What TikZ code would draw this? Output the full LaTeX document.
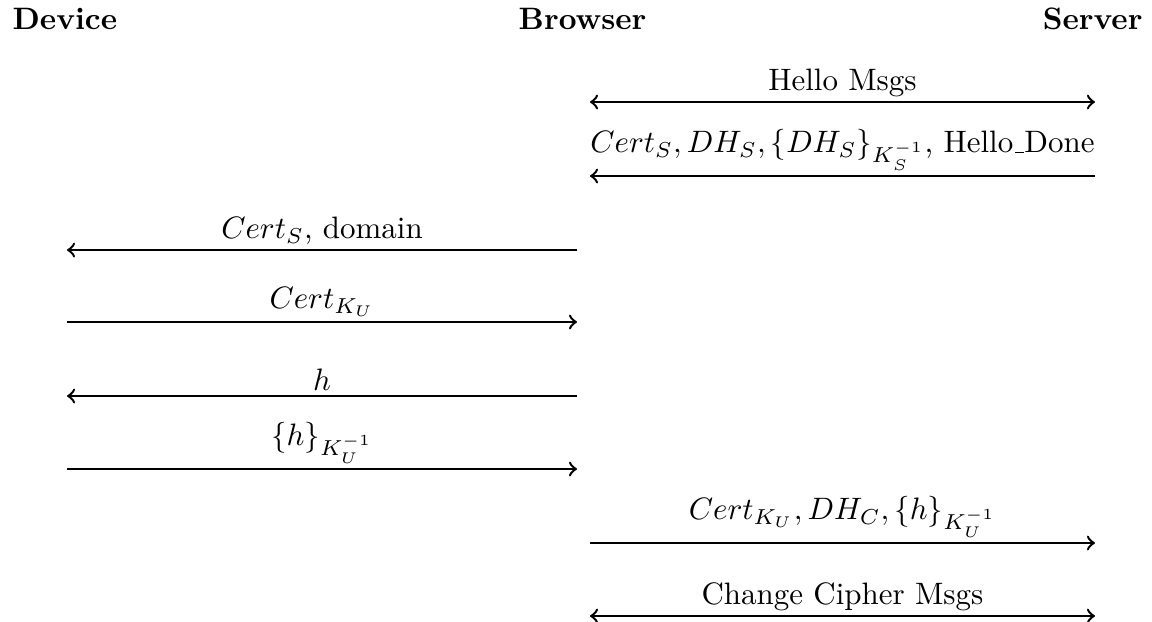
\documentclass[tikz,border=0pt]{standalone}
\usetikzlibrary{arrows}

\begin{document}
\begin{tikzpicture}[scale=0.952,
    hdr/.style={font=\bfseries, anchor=base, inner sep=0pt},
    lbl/.style={above, inner sep=1.3pt},
    msg/.style={->, thick},
    bimsg/.style={<->, thick}
  ]
  \useasboundingbox (0,0) rectangle (13.73,-7.413);

  %===== Parties =====%
  \node[hdr, anchor=base west] (dev) at (0.143,-0.349) {Device};
  \node[hdr] (brw) at (6.943,-0.349) {Browser};
  \node[hdr, anchor=base east] (srv) at (13.623,-0.349) {Server};

  % end points of the messages
  \coordinate (b1) at (7.032,-1.216);  \coordinate (s1) at (13.05,-1.216);
  \coordinate (b2) at (7.032,-2.098);  \coordinate (s2) at (13.05,-2.098);
  \coordinate (d3) at (0.799,-2.980);  \coordinate (b3) at (6.877,-2.980);
  \coordinate (d4) at (0.799,-3.838);  \coordinate (b4) at (6.877,-3.838);
  \coordinate (d5) at (0.799,-4.720);  \coordinate (b5) at (6.877,-4.720);
  \coordinate (d6) at (0.799,-5.590);  \coordinate (b6) at (6.877,-5.590);
  \coordinate (b7) at (7.032,-6.472);  \coordinate (s7) at (13.05,-6.472);
  \coordinate (b8) at (7.032,-7.342);  \coordinate (s8) at (13.05,-7.342);

  %===== Browser <-> Server =====%
  \draw[bimsg] (b1) -- node[lbl] (m1) {Hello Msgs} (s1);
  \draw[msg] (s2) -- node[lbl] (m2)
    {$Cert_S, DH_S, \{DH_S\}_{K_S^{-1}}$,
     Hello\kern.06em\vbox{\hrule width .3em}Done} (b2);

  %===== Device <-> Browser =====%
  \draw[msg] (b3) -- node[lbl] (m3) {$Cert_S$, domain} (d3);
  \draw[msg] (d4) -- node[lbl] (m4) {$Cert_{K_U}$} (b4);
  \draw[msg] (b5) -- node[lbl] (m5) {$h$} (d5);
  \draw[msg] (d6) -- node[lbl] (m6) {$\{h\}_{K_U^{-1}}$} (b6);

  %===== Browser <-> Server again =====%
  \draw[msg] (b7) -- node[lbl] (m7)
    {$Cert_{K_U}, DH_C, \{h\}_{K_U^{-1}}$} (s7);
  \draw[bimsg] (b8) -- node[lbl] (m8) {Change Cipher Msgs} (s8);
\end{tikzpicture}
\end{document}
